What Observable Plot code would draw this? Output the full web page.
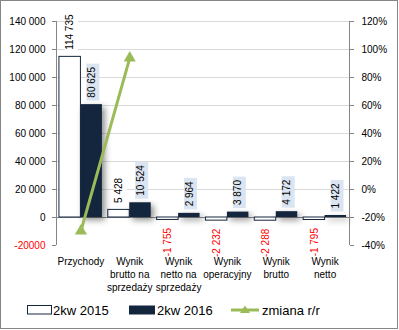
<!DOCTYPE html>
<html><head><meta charset="utf-8">
<script src="https://cdn.jsdelivr.net/npm/d3@7"></script>
<script src="https://cdn.jsdelivr.net/npm/@observablehq/plot@0.6"></script>
<style>
body{margin:0;background:#fff;}
#wrap{position:relative;width:399px;height:330px;font-family:"Liberation Sans",Arial,sans-serif;}
#border{position:absolute;left:0;top:0;width:398px;height:329px;box-sizing:border-box;border:1px solid #868686;pointer-events:none;}
#chart svg{position:absolute;left:0;top:0;}
.sw{position:absolute;}
.lab{position:absolute;font-size:13px;line-height:13px;color:#000;white-space:nowrap;}
</style></head><body>
<div id="wrap"><div id="chart"></div><div id="legend"></div><div id="border"></div></div>
<script>
const categories = ["Przychody", "Wynik\nbrutto na\nsprzedaży", "Wynik\nnetto na\nsprzedaży", "Wynik\noperacyjny", "Wynik\nbrutto", "Wynik\nnetto"];
const series = ["2kw 2015", "2kw 2016", "zmiana r/r"];
const values2015 = [114735, 5428, -1755, -2232, -2288, -1795];
const values2016 = [80625, 10524, 2964, 3870, 4172, 1422];
const changePct = [-29.7, 93.9, null, null, null, null];
const leftTicks = [-20000, 0, 20000, 40000, 60000, 80000, 100000, 120000, 140000];
const rightTicks = [-40, -20, 0, 20, 40, 60, 80, 100, 120];

const NAVY = "#14263e", GREEN = "#9bbb59", AXIS = "#868686", GRID = "#d9d9d9", RED = "#ff0000", BOX = "#dbe5f1";
const nf = d3.formatLocale({decimal: ",", thousands: " ", grouping: [3], currency: ["", ""], minus: "-"}).format(",d");
const pctToLeft = p => (p + 20) * 1000;   // secondary axis mapping: -40%..120% <-> -20000..140000
const leftToPct = v => v / 1000 - 20;
const W = 0.44; // bar width in category units

const rows15 = categories.map((c, i) => ({i, cat: c, value: values2015[i]}));
const rows16 = categories.map((c, i) => ({i, cat: c, value: values2016[i]}));
const chg = categories.map((c, i) => ({i, cat: c, p: changePct[i]})).filter(d => d.p != null);

const plot = Plot.plot({
  width: 399, height: 295,
  marginLeft: 56, marginRight: 50, marginTop: 21, marginBottom: 50,
  x: {domain: [0, categories.length], axis: null},
  y: {domain: [-20000, 140000]},
  style: {fontFamily: '"Liberation Sans", Arial, sans-serif', fontSize: "10px", color: "#000", background: "transparent", overflow: "visible"},
  marks: [
    Plot.ruleY(leftTicks.filter(d => d > 0), {stroke: GRID}),
    Plot.ruleY([0], {stroke: AXIS}),
    Plot.ruleX([0, categories.length], {stroke: AXIS}),
    Plot.axisY(leftTicks.filter(d => d >= 0), {anchor: "left", label: null, tickSize: 4, tickPadding: 7, stroke: AXIS, fill: "#000", fontSize: 10, tickFormat: nf}),
    Plot.axisY(leftTicks.filter(d => d < 0), {anchor: "left", label: null, tickSize: 4, tickPadding: 7, stroke: AXIS, fill: RED, fontSize: 10, tickFormat: d => "-" + Math.abs(d)}),
    Plot.axisY(rightTicks.map(pctToLeft), {anchor: "right", label: null, tickSize: 4, tickPadding: 8, stroke: AXIS, fill: "#000", fontSize: 10, tickFormat: v => leftToPct(v) + "%"}),
    Plot.rect(rows15, {x1: d => d.i + 0.5 - W, x2: d => d.i + 0.5, y1: 0, y2: "value", fill: "#fff", stroke: NAVY, strokeWidth: 1}),
    Plot.rect(rows16, {x1: d => d.i + 0.5, x2: d => d.i + 0.5 + W, y1: 0, y2: "value", fill: NAVY, ariaDescription: "bars2016"}),
    Plot.text(rows15.filter(d => d.value >= 0), {x: d => d.i + 0.5 - W / 2, y: "value", text: d => nf(d.value), rotate: -90, textAnchor: "start", dy: -7, fill: "#000", fontSize: 10, ariaDescription: "lab2015"}),
    Plot.text(rows15.filter(d => d.value < 0), {x: d => d.i + 0.5 - W / 2, y: "value", text: d => nf(d.value), rotate: -90, textAnchor: "end", dy: 8, fill: RED, fontSize: 10, ariaDescription: "lab2015"}),
    Plot.text(rows16, {x: d => d.i + 0.5 + W / 2, y: "value", text: d => nf(d.value), rotate: -90, textAnchor: "start", dy: -7, fill: "#000", fontSize: 10, ariaDescription: "lab2016"}),
    Plot.line(chg, {x: d => d.i + 0.5, y: d => pctToLeft(d.p), stroke: GREEN, strokeWidth: 3}),
    Plot.dot(chg, {x: d => d.i + 0.5, y: d => pctToLeft(d.p), symbol: "triangle", r: 4.5, fill: GREEN, stroke: "none"}),
    Plot.text(categories, {x: (d, i) => i + 0.5, frameAnchor: "bottom", lineAnchor: "top", dy: 10, lineHeight: 1.3, fill: "#000", fontSize: 10})
  ]
});
document.getElementById("chart").appendChild(plot);

// drop shadow on 2016 bars
plot.querySelectorAll('g[aria-description="bars2016"]').forEach(g => g.style.filter = "drop-shadow(3px 3px 3px rgba(0,0,0,0.45))");

// label background boxes
function addBoxes(desc, fill) {
  plot.querySelectorAll(`g[aria-description="${desc}"] text`).forEach(t => {
    const b = t.getBBox();
    const r = document.createElementNS("http://www.w3.org/2000/svg", "rect");
    r.setAttribute("x", b.x - 3);
    r.setAttribute("y", b.y + 0.5);
    r.setAttribute("width", b.width + 6);
    r.setAttribute("height", b.height + 2);
    const tr = t.getAttribute("transform");
    if (tr) r.setAttribute("transform", tr);
    r.setAttribute("fill", fill);
    r.setAttribute("stroke", "none");
    t.parentNode.insertBefore(r, t);
  });
}
addBoxes("lab2015", "#fff");
addBoxes("lab2016", BOX);

// legend
const leg = document.getElementById("legend");
const xs = [27, 129, 231];
const swatches = [
  `<svg class="sw" style="left:${xs[0]}px;top:305px" width="25" height="10"><rect x="0.5" y="0.5" width="24" height="8.5" fill="#fff" stroke="${NAVY}"/></svg>`,
  `<svg class="sw" style="left:${xs[1]}px;top:305px" width="27" height="10"><rect x="0" y="0.5" width="26" height="9" fill="${NAVY}"/></svg>`,
  `<svg class="sw" style="left:${xs[2]}px;top:303px" width="29" height="14"><line x1="0" x2="28" y1="7" y2="7" stroke="${GREEN}" stroke-width="3"/><path d="M14,2.5 L19,10 L9,10 Z" fill="${GREEN}"/></svg>`
];
const labX = [53, 157, 262];
leg.innerHTML = swatches.join("") + series.map((s, k) => `<div class="lab" style="left:${labX[k]}px;top:304px">${s}</div>`).join("");
</script>
</body></html>
